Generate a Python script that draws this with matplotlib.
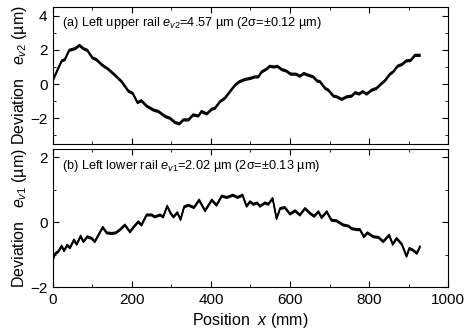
import matplotlib
matplotlib.use('Agg')
import matplotlib.pyplot as plt
from matplotlib.ticker import MultipleLocator, NullFormatter
import numpy as np

# Tipografía parecida a Arial
plt.rcParams.update({'font.family': 'Liberation Sans',
                     'mathtext.fontset': 'custom',
                     'mathtext.rm': 'Liberation Sans',
                     'mathtext.it': 'Liberation Sans:italic',
                     'font.size': 10})

# Panel (a): carril superior izquierdo
x_sup = [0, 13, 22, 30, 41, 56, 67, 77, 87, 100, 110, 123, 140, 157, 174, 191,
         202, 214, 224, 237, 254, 267, 284, 296, 309, 320, 330, 343, 355, 368,
         376, 389, 402, 410, 423, 435, 448, 461, 472, 486, 499, 511, 520, 528,
         539, 549, 559, 568, 579, 590, 602, 615, 625, 635, 646, 659, 668, 676,
         689, 697, 710, 718, 731, 744, 756, 765, 775, 784, 794, 807, 819, 830,
         840, 853, 861, 872, 883, 894, 906, 916, 929]
y_sup = [0.23, 0.91, 1.35, 1.43, 1.97, 2.07, 2.26, 2.07, 1.97, 1.53, 1.43, 1.14,
         0.87, 0.52, 0.14, -0.41, -0.54, -1.08, -0.97, -1.28, -1.51, -1.60,
         -1.89, -1.99, -2.24, -2.32, -2.09, -2.09, -1.80, -1.86, -1.60, -1.74,
         -1.47, -1.41, -1.02, -0.83, -0.44, -0.06, 0.14, 0.27, 0.33, 0.42, 0.42,
         0.71, 0.85, 1.04, 1.00, 1.04, 0.85, 0.77, 0.58, 0.58, 0.46, 0.62, 0.52,
         0.42, 0.19, 0.14, -0.25, -0.35, -0.70, -0.74, -0.89, -0.74, -0.70,
         -0.50, -0.58, -0.44, -0.58, -0.35, -0.25, 0.00, 0.19, 0.58, 0.71, 1.04,
         1.14, 1.35, 1.39, 1.68, 1.68]
sigma_sup = 0.12

# Panel (b): carril inferior izquierdo
x_inf = [1, 5, 13, 22, 28, 36, 43, 53, 60, 70, 77, 87, 98, 106, 115, 126, 136,
         149, 159, 170, 182, 195, 205, 216, 224, 237, 250, 258, 271, 279, 289,
         298, 305, 315, 323, 332, 343, 357, 370, 385, 402, 414, 427, 440, 456,
         467, 480, 490, 499, 507, 517, 524, 537, 545, 556, 566, 575, 587, 600,
         613, 625, 638, 651, 661, 672, 680, 693, 705, 718, 735, 748, 756, 769,
         777, 787, 796, 811, 824, 836, 851, 860, 870, 883, 895, 902, 911, 921,
         929]
y_inf = [-1.12, -0.98, -0.91, -0.74, -0.88, -0.71, -0.79, -0.55, -0.68, -0.43,
         -0.60, -0.45, -0.50, -0.60, -0.40, -0.16, -0.33, -0.35, -0.33, -0.23,
         -0.09, -0.30, -0.14, 0.01, -0.09, 0.22, 0.22, 0.16, 0.22, 0.16, 0.49,
         0.27, 0.16, 0.29, 0.08, 0.47, 0.52, 0.45, 0.68, 0.35, 0.68, 0.52, 0.80,
         0.76, 0.83, 0.76, 0.83, 0.49, 0.63, 0.55, 0.59, 0.49, 0.59, 0.55, 0.73,
         0.11, 0.42, 0.45, 0.25, 0.35, 0.22, 0.42, 0.27, 0.18, 0.32, 0.14, 0.32,
         0.06, 0.04, -0.09, -0.12, -0.20, -0.23, -0.23, -0.45, -0.33, -0.45,
         -0.47, -0.60, -0.40, -0.68, -0.50, -0.68, -1.05, -0.81, -0.86, -0.96,
         -0.76]
sigma_inf = 0.13

fig = plt.figure(figsize=(4.66, 3.35), dpi=100)
ax1 = fig.add_axes([0.1137, 0.570, 0.8477, 0.409])
ax2 = fig.add_axes([0.1137, 0.143, 0.8477, 0.412])

paneles = [(ax1, x_sup, y_sup, sigma_sup, (-3.5, 4.5), 0.45),
           (ax2, x_inf, y_inf, sigma_inf, (-2, 2.25), 0.2)]

for ax, x, y, s, lim, k in paneles:
    # Varias mediciones repetidas dentro de la banda de 2 sigma
    for f in (-k, 0.0, k):
        ax.plot(x, np.array(y) + f * s, color='black', lw=1.0)
    ax.set_xlim(0, 1000)
    ax.set_ylim(*lim)
    ax.xaxis.set_major_locator(MultipleLocator(200))
    ax.xaxis.set_minor_locator(MultipleLocator(100))
    ax.yaxis.set_major_locator(MultipleLocator(2))
    ax.yaxis.set_minor_locator(MultipleLocator(1))
    ax.tick_params(which='both', direction='in', top=True, right=True,
                   labelsize=11, pad=4)
    ax.tick_params(which='major', length=4)
    ax.tick_params(which='minor', length=2.5)

ax1.xaxis.set_major_formatter(NullFormatter())

ax1.set_ylabel('Deviation   $e_{v2}$ (µm)', fontsize=11.5, labelpad=1)
ax2.set_ylabel('Deviation   $e_{v1}$ (µm)', fontsize=11.5, labelpad=1)
ax2.set_xlabel('Position  $x$ (mm)', fontsize=11.5, labelpad=3)

ax1.text(0.022, 0.945, '(a) Left upper rail $e_{v2}$=4.57 µm (2σ=±0.12 µm)',
         transform=ax1.transAxes, fontsize=9.2, va='top')
ax2.text(0.022, 0.935, '(b) Left lower rail $e_{v1}$=2.02 µm (2σ=±0.13 µm)',
         transform=ax2.transAxes, fontsize=9.2, va='top')

fig.savefig('out.png', dpi=100)
